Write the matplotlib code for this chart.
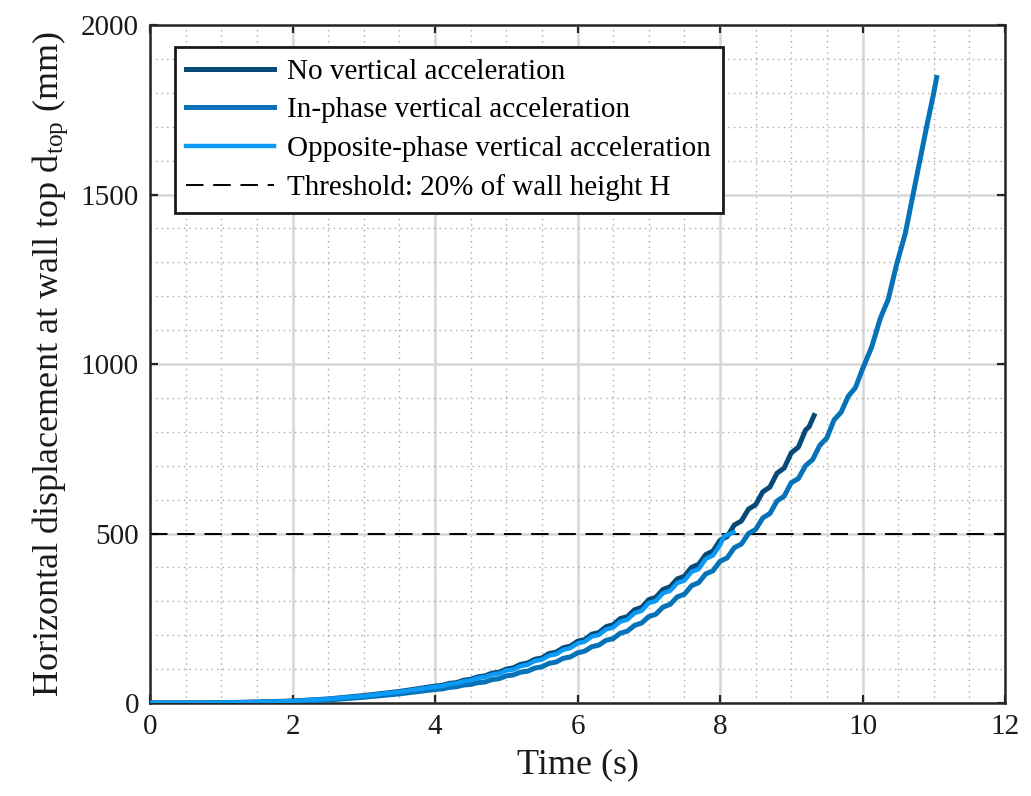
import matplotlib
matplotlib.use("Agg")
import matplotlib.pyplot as plt
from matplotlib.ticker import MultipleLocator

plt.rcParams["font.family"] = ["Liberation Serif", "DejaVu Serif"]
plt.rcParams["mathtext.fontset"] = "custom"
plt.rcParams["mathtext.rm"] = "Liberation Serif"
plt.rcParams["mathtext.it"] = "Liberation Serif:italic"

# --- wall-top displacement histories (s, mm) ---------------------------------
t_none = [0.0, 0.5, 1.0, 1.5, 2.0, 2.5, 3.0, 3.5, 4.0,
          4.1, 4.2, 4.3, 4.4, 4.5, 4.6, 4.7, 4.8, 4.9, 5.0,
          5.1, 5.2, 5.3, 5.4, 5.5, 5.6, 5.7, 5.8, 5.9, 6.0,
          6.1, 6.2, 6.3, 6.4, 6.5, 6.6, 6.7, 6.8, 6.9, 7.0,
          7.1, 7.2, 7.3, 7.4, 7.5, 7.6, 7.7, 7.8, 7.9, 8.0,
          8.1, 8.2, 8.3, 8.4, 8.5, 8.6, 8.7, 8.8, 8.9, 9.0,
          9.1, 9.2, 9.25, 9.32]
d_none = [0, 0.2, 1, 3, 6, 12, 22, 34, 50,
          52, 58, 60, 67, 70, 77, 80, 88, 91, 100,
          104, 114, 118, 129, 133, 146, 150, 163, 168, 182,
          187, 203, 208, 225, 231, 249, 255, 275, 282, 305,
          312, 335, 343, 366, 374, 400, 409, 438, 448, 480,
          491, 525, 537, 572, 585, 623, 637, 678, 693, 738,
          755, 805, 815, 848]

t_inphase = [0.0, 0.5, 1.0, 1.5, 2.0, 2.5, 3.0, 3.5, 4.0,
             4.1, 4.2, 4.3, 4.4, 4.5, 4.6, 4.7, 4.8, 4.9, 5.0,
             5.1, 5.2, 5.3, 5.4, 5.5, 5.6, 5.7, 5.8, 5.9, 6.0,
             6.1, 6.2, 6.3, 6.4, 6.5, 6.6, 6.7, 6.8, 6.9, 7.0,
             7.1, 7.2, 7.3, 7.4, 7.5, 7.6, 7.7, 7.8, 7.9, 8.0,
             8.1, 8.2, 8.3, 8.4, 8.5, 8.6, 8.7, 8.8, 8.9, 9.0,
             9.1, 9.2, 9.3, 9.4, 9.5, 9.6, 9.7, 9.8, 9.9, 10.0,
             10.13, 10.25, 10.36, 10.48, 10.6, 10.7, 10.8, 10.9, 11.0,
             11.04]
d_inphase = [0, 0.1, 0.6, 2, 4, 9, 17, 27, 40,
             41.5, 46, 48, 53, 55, 60, 62, 69, 72, 80,
             83, 91, 94, 103, 107, 117, 121, 132, 136, 148,
             153, 166, 171, 185, 190, 206, 212, 229, 236, 255,
             262, 283, 291, 313, 321, 346, 355, 381, 390, 418,
             428, 458, 469, 500, 512, 546, 559, 596, 610, 650,
             662, 700, 718, 760, 782, 835, 858, 905, 930, 985,
             1051, 1135, 1190, 1295, 1385, 1490, 1595, 1700, 1800,
             1845]

t_opposite = [0.0, 0.5, 1.0, 1.5, 2.0, 2.5, 3.0, 3.5, 4.0,
              4.1, 4.2, 4.3, 4.4, 4.5, 4.6, 4.7, 4.8, 4.9, 5.0,
              5.1, 5.2, 5.3, 5.4, 5.5, 5.6, 5.7, 5.8, 5.9, 6.0,
              6.1, 6.2, 6.3, 6.4, 6.5, 6.6, 6.7, 6.8, 6.9, 7.0,
              7.1, 7.2, 7.3, 7.4, 7.5, 7.6, 7.7, 7.8, 7.9, 8.0,
              8.06, 8.19]
d_opposite = [0, 0.2, 1, 3, 6, 12, 21, 33, 48,
              50, 56, 58, 64, 67, 74, 77, 84, 87, 96,
              99, 109, 113, 124, 128, 140, 144, 157, 162, 176,
              181, 196, 201, 217, 223, 240, 246, 265, 272, 295,
              301, 324, 331, 354, 361, 387, 395, 425, 435, 466,
              492, 503]

threshold = 500  # 20 % of wall height H (mm)

labels = ["No vertical acceleration",
          "In-phase vertical acceleration",
          "Opposite-phase vertical acceleration",
          "Threshold: 20% of wall height H"]

fig = plt.figure(figsize=(10.31, 7.96), dpi=100)
ax = fig.add_axes([0.1455, 0.1168, 0.8293, 0.8518])

ax.plot(t_none, d_none, color="#074a77", lw=3.6, label=labels[0], zorder=3)
ax.plot(t_inphase, d_inphase, color="#0672b8", lw=3.6, label=labels[1], zorder=3)
ax.plot(t_opposite, d_opposite, color="#0b9af5", lw=3.2, label=labels[2], zorder=4)
ax.axhline(threshold, color="black", lw=1.4, dashes=(9, 5), label=labels[3], zorder=2)

ax.set_xlim(0, 12)
ax.set_ylim(0, 2000)
ax.xaxis.set_major_locator(MultipleLocator(2))
ax.xaxis.set_minor_locator(MultipleLocator(0.5))
ax.yaxis.set_major_locator(MultipleLocator(500))
ax.yaxis.set_minor_locator(MultipleLocator(100))

ax.grid(which="major", color="#d6d6d6", lw=1.8, ls="-", zorder=0)
ax.grid(which="minor", color="#a8a8a8", lw=1.0, ls=(0, (1, 3)), zorder=0)
ax.set_axisbelow(True)

ax.tick_params(which="major", direction="in", length=6, width=1.6,
               top=True, right=True, labelsize=21, pad=8, colors="#262626",
               labelcolor="#1a1a1a")
ax.tick_params(which="minor", length=0)
for sp in ax.spines.values():
    sp.set_linewidth(1.8)
    sp.set_color("#262626")

ax.set_xlabel("Time (s)", fontsize=26, labelpad=6, color="#1a1a1a")
ax.set_ylabel(r"Horizontal displacement at wall top d$_{\mathrm{top}}$ (mm)",
              fontsize=26, labelpad=8, color="#1a1a1a")

leg = ax.legend(loc="upper left", bbox_to_anchor=(0.029, 0.968),
                borderaxespad=0, fontsize=21, frameon=True, fancybox=False,
                framealpha=1, edgecolor="#1a1a1a", handlelength=3.0,
                handletextpad=0.45, labelspacing=0.42, borderpad=0.4)
leg.get_frame().set_linewidth(2.0)

fig.savefig("out.png", dpi=100)
